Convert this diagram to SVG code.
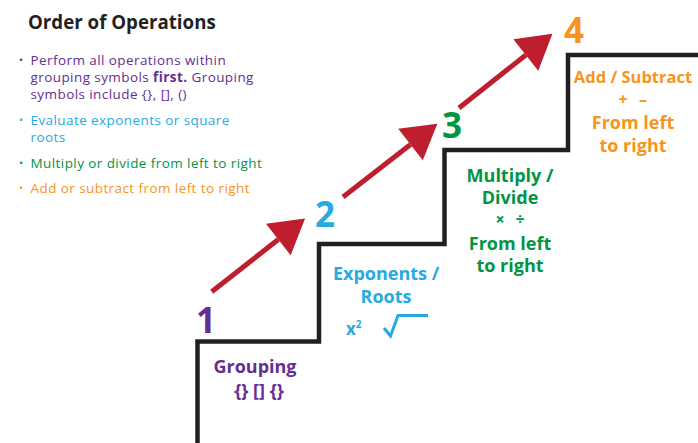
<svg xmlns="http://www.w3.org/2000/svg" width="698" height="443" viewBox="0 0 698 443">
<defs>
<style>
text{font-family:"Open Sans","Noto Sans","Liberation Sans",sans-serif;}
.title{font-size:18.7px;font-weight:bold;fill:#231f20;}
.b{font-size:13.5px;letter-spacing:0.42px;}
.dot{font-size:11px;}
.num{font-size:35px;font-weight:bold;}
.lbl{font-size:18px;font-weight:bold;text-anchor:middle;}
.lbl.narrow{font-size:16.5px;}
.sym{font-size:16px;font-weight:bold;text-anchor:middle;}
.purple{fill:#662d91;}
.blue{fill:#27aae1;}
.green{fill:#009444;}
.orange{fill:#f7941d;}
.stair{fill:none;stroke:#231f20;stroke-width:4.5;stroke-linejoin:miter;}
.arrow{stroke:#be1e2d;stroke-width:5;fill:none;marker-end:url(#head);}
</style>
<marker id="head" markerUnits="userSpaceOnUse" markerWidth="40" markerHeight="44" refX="0" refY="20" orient="auto" viewBox="0 0 40 40" overflow="visible">
<path d="M0,0 L34,20 L0,40 Z" fill="#be1e2d"/>
</marker>
</defs>
<rect width="698" height="443" fill="#ffffff"/>
<g id="legend">
<text class="title" x="28" y="29">Order of Operations</text>
<text class="dot purple" x="19" y="64">•</text>
<text class="b purple" x="30.5" y="65">Perform all operations within</text>
<text class="b purple" x="30.5" y="82">grouping symbols <tspan font-weight="bold">first.</tspan> Grouping</text>
<text class="b purple" x="30.5" y="99">symbols include {}, [], ()</text>
<text class="dot blue" x="19" y="124">•</text>
<text class="b blue" x="30.5" y="125">Evaluate exponents or square</text>
<text class="b blue" x="30.5" y="142">roots</text>
<text class="dot green" x="19" y="167">•</text>
<text class="b green" x="30.5" y="168">Multiply or divide from left to right</text>
<text class="dot orange" x="19" y="192">•</text>
<text class="b orange" x="30.5" y="193">Add or subtract from left to right</text>
</g>
<g id="stairs">
<path class="stair" d="M197.5,443 V341.5 H319 V244 H444.5 V150 H568 V55 H698"/>
</g>
<g id="connectors">
<line class="arrow" x1="211.7" y1="291.7" x2="278.3" y2="239.5"/>
<line class="arrow" x1="343" y1="197" x2="410.5" y2="144.5"/>
<line class="arrow" x1="459" y1="108" x2="525.8" y2="55"/>
</g>
<g id="step1">
<text class="num purple" x="196" y="333">1</text>
<text class="lbl purple" x="255" y="373">Grouping</text>
<text class="lbl purple" x="259" y="397">{} [] {}</text>
</g>
<g id="step2">
<text class="num blue" x="315" y="227">2</text>
<text class="lbl blue" x="386" y="280">Exponents /</text>
<text class="lbl blue" x="386" y="303">Roots</text>
<text class="blue" x="346" y="335" font-size="17" font-weight="bold">x<tspan font-size="10" dy="-7">2</tspan></text>
<path d="M384,328 L390.5,336 L398,315.5 H428" fill="none" stroke="#27aae1" stroke-width="3"/>
</g>
<g id="step3">
<text class="num green" x="442" y="138">3</text>
<text class="lbl green" x="510" y="182">Multiply /</text>
<text class="lbl green" x="510" y="204">Divide</text>
<text class="sym green" x="500" y="225">×</text>
<text class="sym green" x="520" y="225">÷</text>
<text class="lbl green" x="510" y="250">From left</text>
<text class="lbl green" x="510" y="272">to right</text>
</g>
<g id="step4">
<text class="num orange" x="564" y="43">4</text>
<text class="lbl narrow orange" x="633" y="83">Add / Subtract</text>
<text class="sym orange" x="623" y="105">+</text>
<text class="sym orange" x="643" y="105">–</text>
<text class="lbl orange" x="633" y="129">From left</text>
<text class="lbl orange" x="633" y="152">to right</text>
</g>
</svg>
